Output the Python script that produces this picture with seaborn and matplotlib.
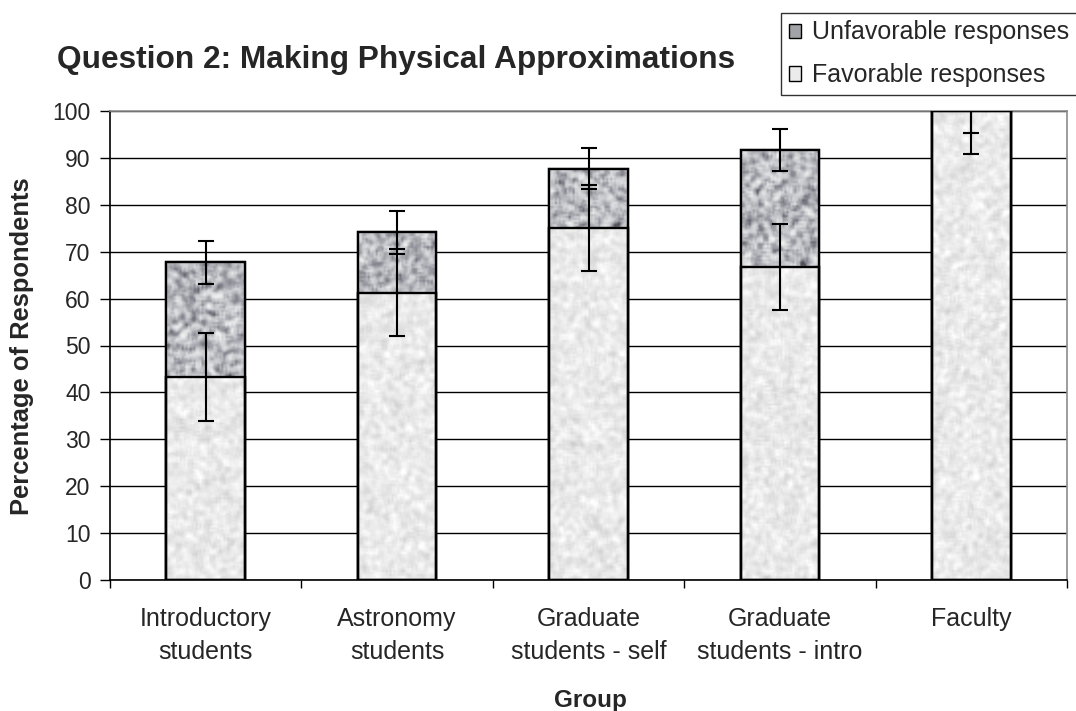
import numpy as np
import pandas as pd
import matplotlib
matplotlib.use("Agg")
import matplotlib.pyplot as plt
from matplotlib.patches import Patch
from matplotlib.colors import LinearSegmentedColormap
import seaborn as sns

# Survey results, question 2
groups = ["Introductory\nstudents", "Astronomy\nstudents", "Graduate\nstudents - self",
          "Graduate\nstudents - intro", "Faculty"]
favorable = [43.3, 61.3, 75.0, 66.7, 100.0]
unfavorable = [24.4, 12.8, 12.7, 25.0, 0.0]
favorable_err = [9.4, 9.3, 9.2, 9.2, 9.2]
total_err = [4.6, 4.5, 4.4, 4.5, 4.6]
y_ticks = [0, 10, 20, 30, 40, 50, 60, 70, 80, 90, 100]

total = [f + u for f, u in zip(favorable, unfavorable)]
df = pd.DataFrame({"Group": groups, "Favorable": favorable, "Total": total})

sns.set_style("white")
plt.rcParams["font.family"] = ["Liberation Sans", "DejaVu Sans"]

W, H = 1076, 711
fig = plt.figure(figsize=(W / 100, H / 100), dpi=100)
ax = fig.add_axes([110 / W, 1 - 580 / H, (1067 - 110) / W, (580 - 111) / H])

UNFAV = "#a2a3a8"
FAV = "#ebebeb"

# Stacked bars: total (unfavorable on top) then favorable over it
sns.barplot(data=df, x="Group", y="Total", color=UNFAV, saturation=1, width=0.41,
            edgecolor="black", linewidth=1.6, ax=ax, zorder=3)
sns.barplot(data=df, x="Group", y="Favorable", color=FAV, saturation=1, width=0.41,
            edgecolor="black", linewidth=1.6, ax=ax, zorder=3)


def grain(shape, base, amp, blob, rng):
    """Smooth mottled grey texture for bar fills."""
    n = rng.normal(size=shape)
    k = np.ones(blob) / blob
    n = np.apply_along_axis(lambda r: np.convolve(r, k, mode="same"), 0, n)
    n = np.apply_along_axis(lambda r: np.convolve(r, k, mode="same"), 1, n)
    n = n / (n.std() + 1e-9)
    return np.clip(base + amp * n, 0, 1)


greyish = LinearSegmentedColormap.from_list(
    "greyish", ["#2e2c34", "#7f7e88", "#c4c6ca", "#eef0f0"])

rng = np.random.default_rng(7)
n_groups = len(groups)
for i, p in enumerate(ax.patches):
    x0, y0 = p.get_x(), p.get_y()
    w, h = p.get_width(), p.get_height()
    if h <= 0:
        continue
    is_fav = i >= n_groups
    rows = max(int(h * 4.7 / 2), 2)
    cols = 40
    if is_fav:
        tex = grain((rows, cols), 0.915, 0.03, 3, rng)
        cmap = "gray"
    else:
        tex = grain((rows, cols), 0.63, 0.14, 3, rng)
        cmap = greyish
    im = ax.imshow(tex, cmap=cmap, vmin=0, vmax=1, extent=(x0, x0 + w, y0, y0 + h),
                   aspect="auto", interpolation="bilinear", zorder=3.5)
    im.set_clip_path(p)
    # outline drawn again above the texture
    ax.add_patch(plt.Rectangle((x0, y0), w, h, fill=False, edgecolor="black",
                               linewidth=1.7, zorder=4))

xs = np.arange(n_groups)
ax.errorbar(xs, favorable, yerr=favorable_err, fmt="none", ecolor="black",
            elinewidth=1.5, capsize=5.5, capthick=1.5, zorder=5)
ax.errorbar(xs, total, yerr=total_err, fmt="none", ecolor="black",
            elinewidth=1.5, capsize=5.5, capthick=1.5, zorder=5)

ax.set_xlim(-0.5, n_groups - 0.5)
ax.set_ylim(0, 100)
ax.set_yticks(y_ticks)
ax.yaxis.grid(True, color="black", linewidth=1.0)
ax.set_axisbelow(True)

ax.tick_params(axis="y", which="major", direction="out", length=7, width=1,
               color="black", labelsize=16.5, pad=7, left=True)
ax.set_xticks(xs)
ax.set_xticklabels(groups, fontsize=18, linespacing=1.48, va="top")
ax.set_xticks(np.arange(-0.5, n_groups, 1.0), minor=True)
ax.tick_params(axis="x", which="major", length=0, pad=19.5)
ax.tick_params(axis="x", which="minor", direction="out", length=5.5, width=1,
               color="black", bottom=True)

for side in ("left", "bottom"):
    ax.spines[side].set_color("black")
    ax.spines[side].set_linewidth(1.2)
for side in ("top", "right"):
    ax.spines[side].set_visible(True)
    ax.spines[side].set_color("#8c8c8c")
    ax.spines[side].set_linewidth(1.2)

ax.set_xlabel("")
ax.set_ylabel("")
fig.text(590 / W, 1 - 707 / H, "Group", ha="center", va="baseline",
         fontsize=17.5, fontweight="bold")
fig.text(22 / W, 1 - 346 / H, "Percentage of Respondents", ha="center", va="center",
         rotation=90, fontsize=18.4, fontweight="bold")

fig.text(396 / W, 1 - 68 / H, "Question 2: Making Physical Approximations",
         ha="center", va="baseline", fontsize=22.8, fontweight="bold")

handles = [Patch(facecolor=UNFAV, edgecolor="black", label="Unfavorable responses"),
           Patch(facecolor=FAV, edgecolor="black", label="Favorable responses")]
leg = fig.legend(handles=handles, loc="upper left", bbox_to_anchor=(781 / W, 1 - 13 / H),
                 fontsize=18, frameon=True, fancybox=False, edgecolor="black",
                 handlelength=0.5, handleheight=0.5, handletextpad=0.45,
                 labelspacing=0.75, borderpad=0.3, borderaxespad=0)
leg.get_frame().set_linewidth(1.0)

fig.savefig("out.png", dpi=100)
